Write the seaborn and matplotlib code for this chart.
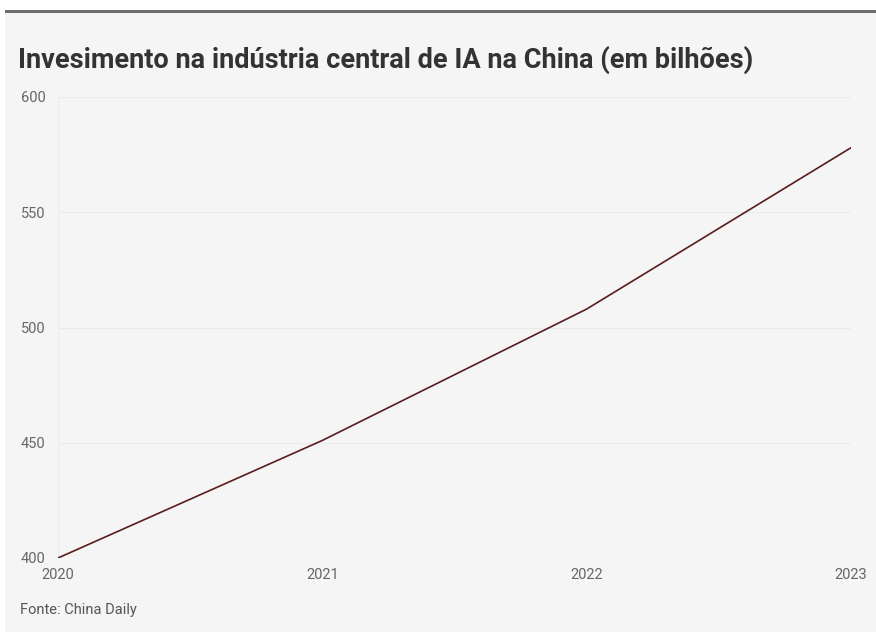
import matplotlib
matplotlib.use("Agg")
import matplotlib.pyplot as plt
import seaborn as sns
import pandas as pd
from matplotlib.patches import Rectangle

# dados
anos = [2020, 2021, 2022, 2023]
investimento = [400, 451, 508, 578]
yticks = [400, 450, 500, 550, 600]

df = pd.DataFrame({'ano': anos, 'valor': investimento})

sns.set_theme(style='white')
plt.rcParams['font.family'] = ['Roboto', 'DejaVu Sans']

fig = plt.figure(figsize=(8.76, 6.32), dpi=100, facecolor='white')
# fundo cinza e barra superior
fig.patches.append(Rectangle((5/876, 0), 1, 1 - 13/632, transform=fig.transFigure,
                             facecolor='#f5f5f5', edgecolor='none', zorder=-2))
fig.patches.append(Rectangle((5/876, 1 - 13/632), 1, 3/632, transform=fig.transFigure,
                             facecolor='#6e6e6e', edgecolor='none', zorder=-2))

ax = fig.add_axes([58/876, 74/632, 793/876, 461/632])
ax.set_zorder(1)
ax.set_facecolor('#f5f5f5')
sns.lineplot(data=df, x='ano', y='valor', ax=ax, color='#5a1c1c', linewidth=1.2)

ax.set_xlim(2020, 2023)
ax.set_ylim(400, 600)
ax.set_xticks(anos)
ax.set_yticks(yticks)
ax.set_xticklabels([str(a) for a in anos])
ax.set_xlabel('')
ax.set_ylabel('')
for s in ax.spines.values():
    s.set_visible(False)
ax.axvline(2020, color='#ebebeb', linewidth=0.8, zorder=0)
for y in yticks:
    ax.axhline(y, color='#ebebeb', linewidth=0.8, zorder=0)
ax.tick_params(axis='both', length=0, labelsize=10.5, colors='#666666')
ax.tick_params(axis='y', pad=9)
ax.tick_params(axis='x', pad=7)

fig.text(18/876, 1 - 60/632, 'Invesimento na indústria central de IA na China (em bilhões)',
         fontsize=19.5, fontweight='bold', color='#333333', va='center', ha='left')
fig.text(20/876, 1 - 610/632, 'Fonte: China Daily', fontsize=10.5, color='#555555',
         va='center', ha='left')

fig.savefig('out.png', dpi=100, facecolor='white')
